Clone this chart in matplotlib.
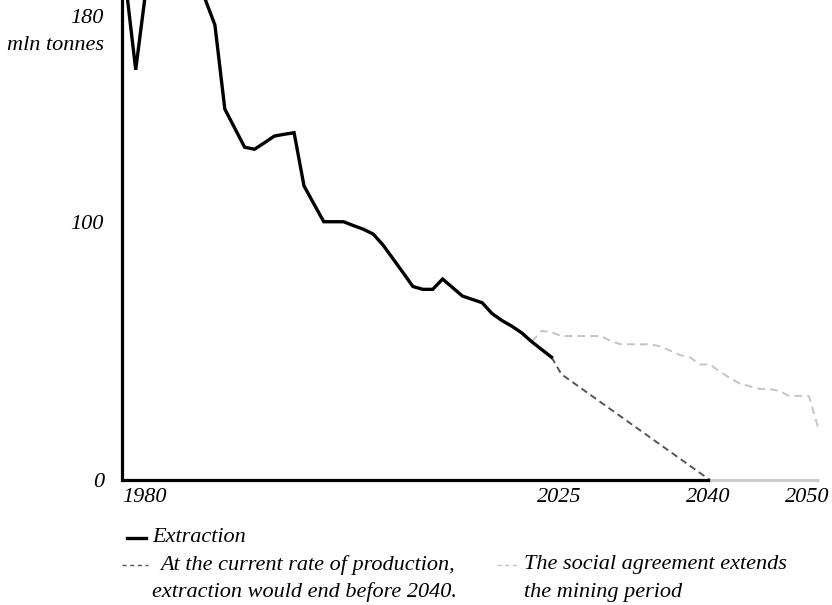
import matplotlib.pyplot as plt
import matplotlib.transforms as mtransforms
from matplotlib.lines import Line2D

# Hard coal extraction, mln tonnes
years = list(range(1980, 2024))
extraction = [192, 159, 189, 191, 191, 191, 192, 192, 186.5, 176.4,
              143.8, 136.4, 129.0, 128.2, 130.7, 133.3, 134.0, 134.6, 114.0, 107.0,
              100.1, 100.1, 100.1, 98.6, 97.2, 95.3, 91.0, 85.7, 80.4, 75.0,
              73.9, 73.9, 77.9, 74.6, 71.3, 70.0, 68.7, 64.5, 61.8, 59.6,
              57.0, 53.6, 50.6, 47.6]

# projection at the current rate
trend_years = [2023, 2024, 2039]
trend_values = [47.6, 41.0, 0]

# social agreement schedule
social_years = list(range(2021, 2051))
social_values = [53.6, 57.8, 57.3, 55.8, 55.8, 55.8, 55.8, 55.8, 53.8, 52.6,
                 52.6, 52.6, 52.6, 51.8, 50.1, 48.4, 47.5, 44.8, 44.8, 42.0,
                 39.6, 37.4, 36.4, 35.3, 35.3, 34.5, 32.6, 32.6, 32.6, 19.4]

x_ticks = [1980, 2025, 2040, 2050]
y_ticks = [0, 100, 180]

W, H = 832, 605
FONT = 'Liberation Serif'
FS = 16

fig = plt.figure(figsize=(W / 100, H / 100), dpi=100)
ax = fig.add_axes([122 / W, 125 / H, (W - 122) / W, 480 / H])

px_per_year = 9.9
x0 = 1980 - 3.8 / px_per_year
ax.set_xlim(x0, x0 + (W - 122) / px_per_year)
ax.set_ylim(0, 480 / 2.58)

for side in ['top', 'right', 'bottom']:
    ax.spines[side].set_visible(False)
ax.spines['left'].set_linewidth(2.3)
ax.spines['left'].set_color('black')

ax.plot(years, extraction, color='black', lw=2.4, solid_joinstyle='miter', zorder=4)
ax.plot(trend_years, trend_values, color='#555555', lw=1.4, dashes=(3.5, 2.2), zorder=3)
ax.plot(social_years, social_values, color='#c4c4c4', lw=1.4, dashes=(4, 2.6), zorder=2)

# the x axis: black until extraction ends, grey for the extended period
ax.plot([x0, trend_years[-1]], [0, 0], color='black', lw=2.3, clip_on=False,
        solid_capstyle='butt', zorder=5)
ax.plot([trend_years[-1], social_years[-1]], [0, 0], color='#cccccc', lw=2.3,
        clip_on=False, solid_capstyle='butt', zorder=5)

ax.set_xticks([])
ax.set_yticks(y_ticks)
ax.set_yticklabels([str(v) for v in y_ticks], fontfamily=FONT, fontstyle='italic', fontsize=FS)
ax.tick_params(axis='y', length=0, pad=13)

ylab_tr = ax.get_yaxis_transform() + mtransforms.ScaledTranslation(-18 / 100, -30 / 100, fig.dpi_scale_trans)
ax.text(0, y_ticks[-1], 'mln tonnes', transform=ylab_tr, ha='right', va='center',
        fontfamily=FONT, fontstyle='italic', fontsize=FS)

for yr in x_ticks:
    if yr == x_ticks[0]:
        off, ha = -4, 'left'
    else:
        off, ha = 10.5, 'right'
    tr = ax.get_xaxis_transform() + mtransforms.ScaledTranslation(off / 100, -8 / 100, fig.dpi_scale_trans)
    ax.text(yr, 0, str(yr), transform=tr, ha=ha, va='top',
            fontfamily=FONT, fontstyle='italic', fontsize=FS)


def fx(px):
    return px / W


def fy(py):
    return 1 - py / H


# legend
fig.add_artist(Line2D([fx(127), fx(146)], [fy(538), fy(538)], color='black', lw=2.4))
fig.text(fx(152), fy(538), 'Extraction', ha='left', va='center',
         fontfamily=FONT, fontstyle='italic', fontsize=FS)

fig.add_artist(Line2D([fx(122), fx(148)], [fy(565), fy(565)], color='#555555', lw=1.0, dashes=(3, 2.5)))
fig.text(fx(160), fy(565), 'At the current rate of production,', ha='left', va='center',
         fontfamily=FONT, fontstyle='italic', fontsize=FS)
fig.text(fx(152), fy(592), 'extraction would end before 2040.', ha='left', va='center',
         fontfamily=FONT, fontstyle='italic', fontsize=FS)

fig.add_artist(Line2D([fx(497), fx(518)], [fy(565), fy(565)], color='#c4c4c4', lw=1.0, dashes=(3, 2.5)))
fig.text(fx(524), fy(565), 'The social agreement extends', ha='left', va='center',
         fontfamily=FONT, fontstyle='italic', fontsize=FS)
fig.text(fx(524), fy(592), 'the mining period', ha='left', va='center',
         fontfamily=FONT, fontstyle='italic', fontsize=FS)

fig.savefig('out.png', dpi=100)
